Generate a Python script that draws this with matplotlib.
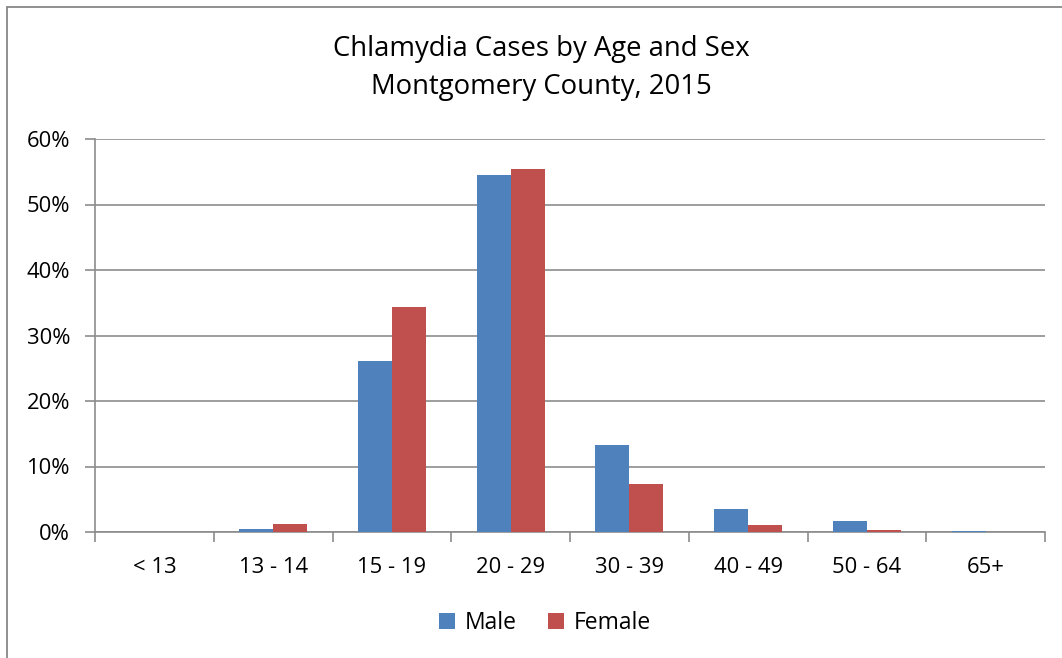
import matplotlib
matplotlib.use("Agg")
import matplotlib.pyplot as plt
import numpy as np
from matplotlib.patches import Rectangle

categories = ["< 13", "13 - 14", "15 - 19", "20 - 29", "30 - 39", "40 - 49", "50 - 64", "65+"]
male = [0.0, 0.45, 26.1, 54.5, 13.3, 3.5, 1.7, 0.1]
female = [0.0, 1.2, 34.4, 55.4, 7.4, 1.0, 0.3, 0.0]
yticks = [0, 10, 20, 30, 40, 50, 60]
title = "Chlamydia Cases by Age and Sex\nMontgomery County, 2015"

plt.rcParams['font.family'] = ['Open Sans', 'DejaVu Sans']

W, H = 1062, 658
fig = plt.figure(figsize=(W / 100, H / 100), dpi=100)
fig.patch.set_facecolor('white')

# outer chart border
fig.patches.append(Rectangle((7 / W, -0.05), 1.2, 1 - 7 / H + 0.05, transform=fig.transFigure,
                             fill=False, edgecolor='#878787', linewidth=1.3))

ax = fig.add_axes([95 / W, 1 - 532 / H, (1045 - 95) / W, (532 - 139) / H])

x = np.arange(len(categories))
bw = 0.286
ax.bar(x - bw / 2, male, bw, color='#4F81BD', label='Male', zorder=3)
ax.bar(x + bw / 2, female, bw, color='#C0504D', label='Female', zorder=3)

ax.set_xlim(-0.5, len(categories) - 0.5)
ax.set_ylim(0, 60)

grid_c = '#8c8c8c'
ax.set_yticks(yticks)
ax.set_yticklabels([f"{v}%" for v in yticks])
ax.yaxis.grid(True, color=grid_c, linewidth=1.2, zorder=0)
ax.tick_params(axis='y', length=7, width=1.2, color=grid_c, pad=11, labelsize=15.8, labelcolor='black')

ax.set_xticks(np.arange(len(categories) + 1) - 0.5)
ax.set_xticklabels([])
ax.set_xticks(x, minor=True)
ax.set_xticklabels(categories, minor=True)
ax.tick_params(axis='x', which='major', length=7, width=1.2, color=grid_c)
ax.tick_params(axis='x', which='minor', length=0, pad=18, labelsize=15.8, labelcolor='black')

for s in ['top', 'right']:
    ax.spines[s].set_visible(False)
for s in ['left', 'bottom']:
    ax.spines[s].set_color(grid_c)
    ax.spines[s].set_linewidth(1.2)

fig.text(541 / W, 1 - 68 / H, title, ha='center', va='center', fontsize=19.8,
         linespacing=1.5, color='black')

fig.legend(loc='center', bbox_to_anchor=(545 / W, 1 - 623 / H), ncol=2, frameon=False,
           fontsize=16.5, handlelength=0.7, handleheight=0.7, handletextpad=0.4,
           columnspacing=1.4)

fig.savefig("out.png", dpi=100, facecolor='white')
